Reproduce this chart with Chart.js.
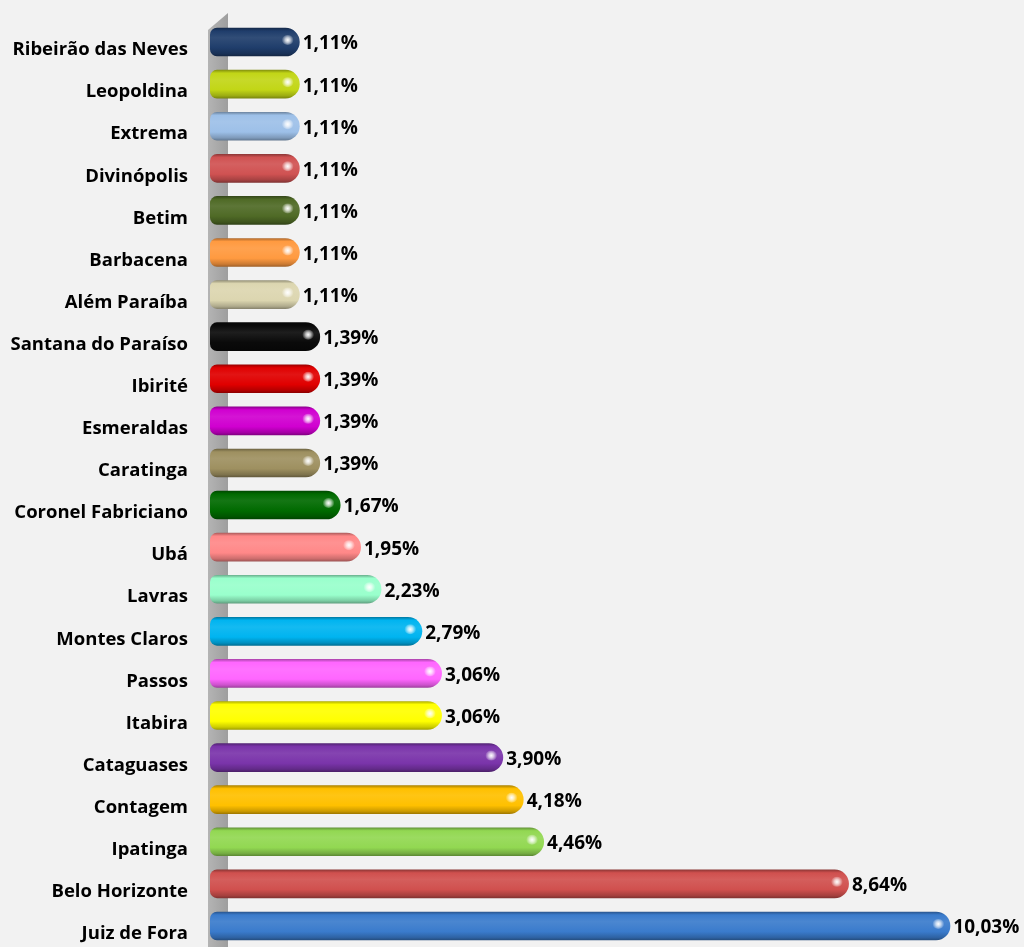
<!DOCTYPE html>
<html>
<head>
<meta charset="utf-8">
<script src="https://cdn.jsdelivr.net/npm/chart.js@4.4.1/dist/chart.umd.min.js"></script>
<style>
  html, body { margin: 0; padding: 0; background: #f2f2f2; }
  #wrap { position: relative; width: 1024px; height: 947px; }
</style>
</head>
<body>
<div id="wrap"><canvas id="chart"></canvas></div>
<script>
const cities = [
  'Ribeirão das Neves', 'Leopoldina', 'Extrema', 'Divinópolis', 'Betim',
  'Barbacena', 'Além Paraíba', 'Santana do Paraíso', 'Ibirité', 'Esmeraldas',
  'Caratinga', 'Coronel Fabriciano', 'Ubá', 'Lavras', 'Montes Claros',
  'Passos', 'Itabira', 'Cataguases', 'Contagem', 'Ipatinga',
  'Belo Horizonte', 'Juiz de Fora'
];
const shares = [
  1.11, 1.11, 1.11, 1.11, 1.11,
  1.11, 1.11, 1.39, 1.39, 1.39,
  1.39, 1.67, 1.95, 2.23, 2.79,
  3.06, 3.06, 3.90, 4.18, 4.46,
  8.64, 10.03
];
const barColors = [
  '#1f3d6b', '#c2d616', '#9dc0e8', '#d05252', '#4f6a26',
  '#ff9a40', '#dcd6b0', '#0a0a0a', '#e00000', '#d000d0',
  '#9e9060', '#006a00', '#ff8888', '#99ffcc', '#00b4f0',
  '#ff66ff', '#ffff00', '#7a34aa', '#ffc000', '#92d852',
  '#d0504e', '#3a7bcc'
];

const FONT = '"Open Sans", Lato, sans-serif';

function shade(hex, amt) {
  const n = parseInt(hex.slice(1), 16);
  const r = (n >> 16) & 255, g = (n >> 8) & 255, b = n & 255;
  const f = (c) => amt < 0 ? Math.round(c * (1 + amt)) : Math.round(c + (255 - c) * amt);
  return `rgb(${f(r)},${f(g)},${f(b)})`;
}

// cylinder-like vertical shading of each bar
function barFill(context) {
  const chart = context.chart;
  const base = barColors[context.dataIndex];
  const yScale = chart.scales.y;
  if (!yScale || !chart.chartArea) return base;
  const y = yScale.getPixelForValue(context.dataIndex);
  const h = 14.5;
  const g = chart.ctx.createLinearGradient(0, y - h, 0, y + h);
  g.addColorStop(0, shade(base, -0.35));
  g.addColorStop(0.12, shade(base, 0.0));
  g.addColorStop(0.35, shade(base, 0.08));
  g.addColorStop(0.7, base);
  g.addColorStop(0.9, shade(base, -0.2));
  g.addColorStop(1, shade(base, -0.4));
  return g;
}

const wallPlugin = {
  id: 'wall',
  beforeDatasetsDraw(chart) {
    const ctx = chart.ctx;
    ctx.save();
    const g = ctx.createLinearGradient(208, 0, 228, 0);
    g.addColorStop(0, '#b4b4b4');
    g.addColorStop(1, '#9e9e9e');
    ctx.fillStyle = g;
    ctx.beginPath();
    ctx.moveTo(208, 30);
    ctx.lineTo(228, 13);
    ctx.lineTo(228, 947);
    ctx.lineTo(208, 947);
    ctx.closePath();
    ctx.fill();
    ctx.restore();
  }
};

const shineAndLabels = {
  id: 'shineAndLabels',
  afterDatasetsDraw(chart) {
    const ctx = chart.ctx;
    const meta = chart.getDatasetMeta(0);
    ctx.save();
    meta.data.forEach((bar, i) => {
      // highlight spot near the rounded end
      const sx = bar.x - 12, sy = bar.y - 2;
      const rg = ctx.createRadialGradient(sx, sy, 0, sx, sy, 6);
      rg.addColorStop(0, 'rgba(255,255,255,1)');
      rg.addColorStop(0.4, 'rgba(255,255,255,0.7)');
      rg.addColorStop(1, 'rgba(255,255,255,0)');
      ctx.fillStyle = rg;
      ctx.beginPath();
      ctx.ellipse(sx, sy, 6, 5, 0, 0, Math.PI * 2);
      ctx.fill();

      ctx.fillStyle = '#000';
      ctx.font = `bold 19px ${FONT}`;
      ctx.textAlign = 'left';
      ctx.textBaseline = 'middle';
      const txt = shares[i].toFixed(2).replace('.', ',') + '%';
      ctx.fillText(txt, bar.x + 3, bar.y + 2);
    });
    ctx.restore();
  }
};

// eslint-disable-next-line no-new
new Chart(document.getElementById('chart'), {
  type: 'bar',
  data: {
    labels: cities,
    datasets: [{
      data: shares,
      backgroundColor: barFill,
      base: -0.12,
      borderWidth: 0,
      borderSkipped: false,
      borderRadius: { topLeft: 7, bottomLeft: 7, topRight: 15, bottomRight: 15 },
      categoryPercentage: 1,
      barPercentage: 0.68
    }]
  },
  options: {
    indexAxis: 'y',
    responsive: true,
    maintainAspectRatio: false,
    animation: false,
    layout: { padding: { top: 21, right: 0, bottom: 0, left: 0 } },
    scales: {
      x: {
        display: false,
        min: -0.12,
        max: 11.04
      },
      y: {
        grid: { display: false, drawTicks: false },
        border: { display: false },
        afterFit(scale) {
          scale.width = 210;
          scale.paddingTop = 0;
          scale.paddingBottom = 0;
        },
        ticks: {
          padding: 22,
          labelOffset: 8,
          color: '#000',
          font: { family: FONT, size: 18.5, weight: 'bold' }
        }
      }
    },
    plugins: {
      legend: { display: false },
      tooltip: { enabled: false }
    }
  },
  plugins: [wallPlugin, shineAndLabels]
});
</script>
</body>
</html>
